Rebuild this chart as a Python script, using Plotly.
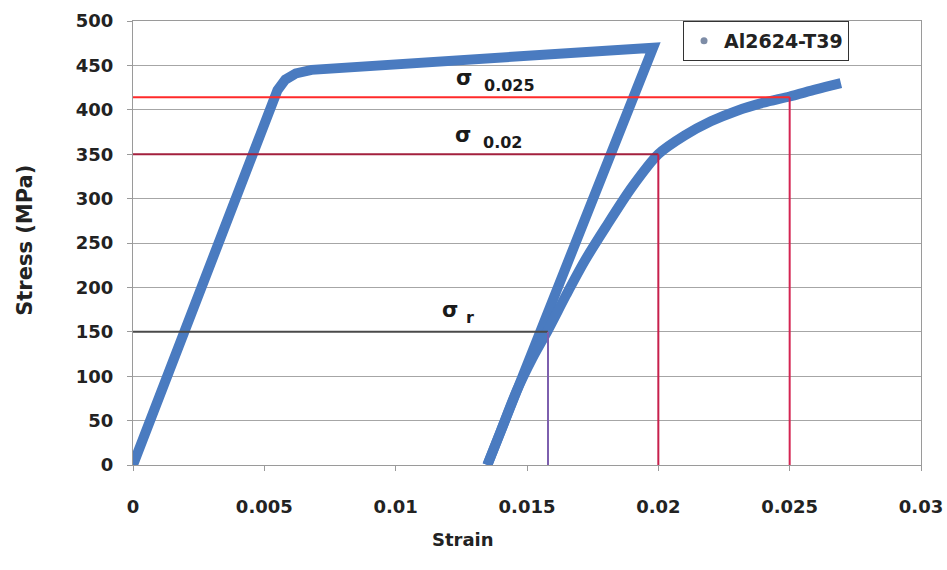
import plotly.graph_objects as go

# Monotonic loading, then unloading of Al2624-T39
load_strain = [0.0, 0.0052, 0.0055, 0.0058, 0.0062, 0.0068, 0.0198, 0.01349]
load_stress = [0, 400, 422, 434, 441, 445, 470, 0]

# Reloading curve after unloading
reload_strain = [0.01349, 0.0140, 0.0146, 0.0152, 0.0158, 0.0165, 0.0172, 0.0180,
                 0.0190, 0.0200, 0.0210, 0.0220, 0.0230, 0.0240, 0.0250, 0.0260, 0.02695]
reload_stress = [0, 38, 83, 120, 152, 192, 230, 268, 313, 350, 371, 387, 399, 408, 415, 423, 430]

# Reference stress levels and the strains where they are read
ref_labels = ["0.025", "0.02", "r"]
ref_strain = [0.025, 0.02, 0.0158]
ref_stress = [414, 350, 150]
ref_hcolor = ["#ff2a2a", "#a3203e", "#4a4a4a"]
ref_vcolor = ["#d42452", "#c7204c", "#7d5fae"]

x_ticks = [0, 0.005, 0.01, 0.015, 0.02, 0.025, 0.03]
x_tick_text = ["0", "0.005", "0.01", "0.015", "0.02", "0.025", "0.03"]
y_ticks = list(range(0, 501, 50))

FONT = "DejaVu Sans"
BLUE = "#4a7bc0"

fig = go.Figure()

fig.add_trace(go.Scatter(x=load_strain, y=load_stress, mode="lines",
                         line=dict(color=BLUE, width=10), showlegend=False))
fig.add_trace(go.Scatter(x=reload_strain, y=reload_stress, mode="lines",
                         line=dict(color=BLUE, width=10, shape="spline", smoothing=0.8),
                         showlegend=False))
# legend entry (marker symbol only)
fig.add_trace(go.Scatter(x=[None], y=[None], mode="markers", name="Al2624-T39",
                         marker=dict(color="#7d8ca6", size=7)))

for s, e, hc, vc in zip(ref_stress, ref_strain, ref_hcolor, ref_vcolor):
    fig.add_trace(go.Scatter(x=[0, e], y=[s, s], mode="lines",
                             line=dict(color=hc, width=2), showlegend=False))
    fig.add_trace(go.Scatter(x=[e, e], y=[s, 0], mode="lines",
                             line=dict(color=vc, width=2), showlegend=False))

# sigma labels: symbol plus separate subscript
sigma_pos = [(0.01262, 436), (0.01258, 372), (0.01208, 175)]
sub_pos = [(0.0133, 427), (0.01323, 363), (0.01262, 166)]
for lab, (sx, sy), (bx, by) in zip(ref_labels, sigma_pos, sub_pos):
    fig.add_annotation(x=sx, y=sy, xref="x", yref="y", text="<b>σ</b>", showarrow=False,
                       font=dict(family=FONT, size=21, color="#1a1a1a"))
    fig.add_annotation(x=bx, y=by, xref="x", yref="y", text="<b>" + lab + "</b>",
                       showarrow=False, xanchor="left",
                       font=dict(family=FONT, size=16, color="#1a1a1a"))

fig.add_annotation(x=0.419, y=-0.195, xref="paper", yref="paper", text="<b>Strain</b>",
                   showarrow=False, xanchor="center",
                   font=dict(family=FONT, size=18, color="#222222"))
fig.add_annotation(x=-0.137, y=0.505, xref="paper", yref="paper", text="<b>Stress (MPa)</b>",
                   showarrow=False, textangle=-90, xanchor="center", yanchor="middle",
                   font=dict(family=FONT, size=21, color="#222222"))

fig.update_layout(
    width=947, height=570,
    margin=dict(l=133, r=26, t=21, b=105, autoexpand=False),
    paper_bgcolor="white", plot_bgcolor="white",
    font=dict(family=FONT, size=18, color="#222222"),
    legend=dict(x=0.698, y=1.0, xanchor="left", yanchor="top",
                bgcolor="white", bordercolor="#333333", borderwidth=1,
                font=dict(family=FONT, size=19, color="#222222", weight="bold"),
                itemwidth=30),
    xaxis=dict(range=[0, 0.03], tickvals=x_ticks, ticktext=x_tick_text,
               showgrid=False, zeroline=False, showline=True, linecolor="#9a9a9a",
               mirror=True, ticks="outside", ticklen=5, tickcolor="#9a9a9a",
               ticklabelstandoff=20, automargin=False, ticklabeloverflow="allow",
               tickfont=dict(family=FONT, size=18, color="#222222", weight="bold")),
    yaxis=dict(range=[0, 500], tickvals=y_ticks, showgrid=True, gridcolor="#a6a6a6",
               gridwidth=1, zeroline=False, showline=True, linecolor="#9a9a9a",
               mirror=True, ticks="outside", ticklen=5, tickcolor="#9a9a9a",
               ticklabelstandoff=10, automargin=False,
               tickfont=dict(family=FONT, size=18, color="#222222", weight="bold")),
)

fig.write_html("out.html")
